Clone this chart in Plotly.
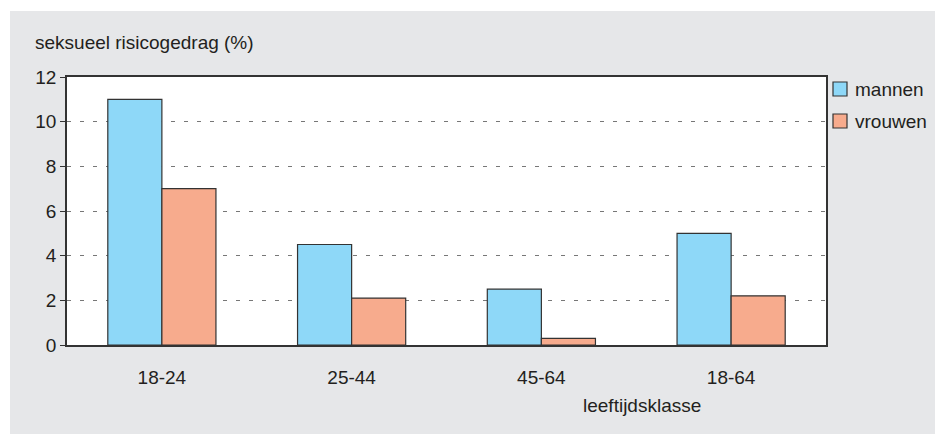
import plotly.graph_objects as go

# Age classes and share (%) with sexual risk behaviour
categories = ["18-24", "25-44", "45-64", "18-64"]
mannen = [11, 4.5, 2.5, 5]
vrouwen = [7, 2.1, 0.3, 2.2]
y_ticks = [0, 2, 4, 6, 8, 10, 12]

W, H = 935, 434
ML, MR, MT, MB = 67, 109, 77, 89
PW, PH = W - ML - MR, H - MT - MB

FONT = "Liberation Sans, Arial, sans-serif"
TXT = "#231f20"
EDGE = "#333333"
COLORS = {"mannen": "#8ed8f8", "vrouwen": "#f7ab8d"}

fig = go.Figure()
for name, values in (("mannen", mannen), ("vrouwen", vrouwen)):
    fig.add_trace(go.Bar(
        x=categories, y=values, name=name, showlegend=False,
        marker=dict(color=COLORS[name], line=dict(color=EDGE, width=1.2)),
    ))


def px_x(px):
    return (px - ML) / PW


def px_y(py):
    return (MT + PH - py) / PH


# white strips along the top and left page edges
shapes = [
    dict(type="rect", xref="paper", yref="paper", layer="below",
         x0=px_x(0), x1=px_x(10), y0=px_y(H), y1=px_y(0),
         fillcolor="white", line=dict(width=0)),
    dict(type="rect", xref="paper", yref="paper", layer="below",
         x0=px_x(0), x1=px_x(W), y0=px_y(11), y1=px_y(0),
         fillcolor="white", line=dict(width=0)),
]

annotations = [
    dict(text="seksueel risicogedrag (%)", xref="paper", yref="paper",
         x=px_x(33), y=px_y(43), xanchor="left", yanchor="middle",
         showarrow=False, font=dict(family=FONT, size=19, color=TXT)),
    dict(text="leeftijdsklasse", xref="paper", yref="paper",
         x=px_x(642), y=px_y(405), xanchor="center", yanchor="middle",
         showarrow=False, font=dict(family=FONT, size=19, color=TXT)),
]

# legend: swatch + label per series, stacked at the right of the frame
for i, trace in enumerate(fig.data):
    cy = 89 + 32 * i
    shapes.append(dict(
        type="rect", xref="paper", yref="paper",
        x0=px_x(833), x1=px_x(847), y0=px_y(cy + 7), y1=px_y(cy - 7),
        fillcolor=trace.marker.color, line=dict(color=EDGE, width=1.2),
    ))
    annotations.append(dict(
        text=trace.name, xref="paper", yref="paper",
        x=px_x(853), y=px_y(cy), xanchor="left", yanchor="middle",
        showarrow=False, font=dict(family=FONT, size=19, color=TXT),
    ))

fig.update_layout(
    width=W, height=H,
    margin=dict(l=ML, r=MR, t=MT, b=MB, pad=0),
    paper_bgcolor="#e6e7e9",
    plot_bgcolor="white",
    barmode="group",
    bargap=0.43,
    bargroupgap=0,
    font=dict(family=FONT, size=19, color=TXT),
    shapes=shapes,
    annotations=annotations,
    showlegend=False,
    xaxis=dict(
        showline=True, linecolor=EDGE, linewidth=1.5, mirror=True,
        ticks="", showgrid=False, ticklabelstandoff=14,
        tickfont=dict(family=FONT, size=19, color=TXT),
    ),
    yaxis=dict(
        range=[0, 12], tickvals=y_ticks,
        showline=True, linecolor=EDGE, linewidth=1.5, mirror=True,
        ticks="outside", ticklen=5, tickcolor=EDGE, tickwidth=1.2,
        showgrid=True, gridcolor="#777777", gridwidth=1, griddash="4px,9px",
        zeroline=False,
        tickfont=dict(family=FONT, size=19, color=TXT),
    ),
)

fig.write_html("out.html")
